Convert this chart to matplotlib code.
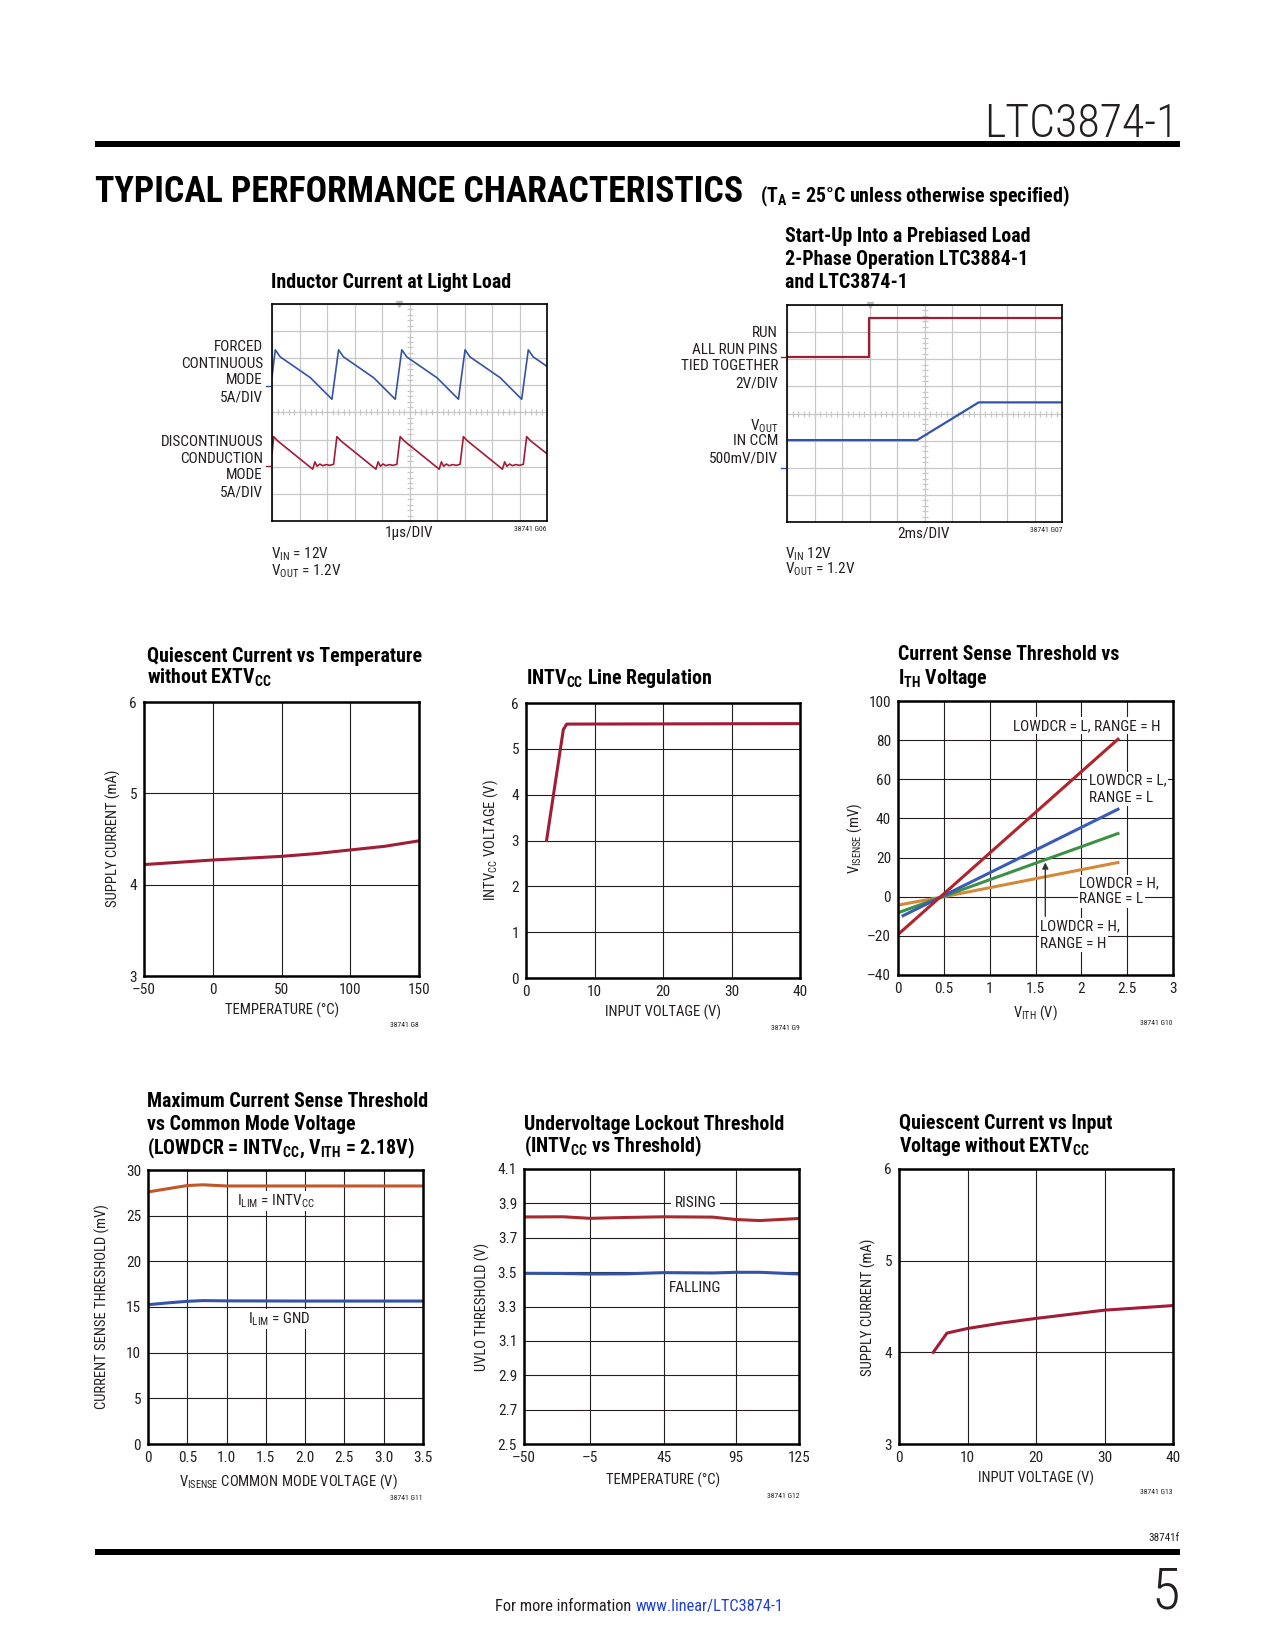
import matplotlib
matplotlib.use('Agg')
import matplotlib.pyplot as plt
from matplotlib import font_manager as fm
from matplotlib.patches import Rectangle
import numpy as np

# ---------------- data ----------------
# Inductor current at light load (scope divisions)
FCM_X = [0, 0.12, 0.30, 1.40, 2.18, 2.42, 2.60, 3.70, 4.48, 4.72, 4.90, 6.00, 6.78,
         7.02, 7.20, 8.30, 9.08, 9.32, 9.50, 10.0]
FCM_Y = [5.33, 6.31, 6.05, 5.28, 4.49, 6.31, 6.05, 5.28, 4.49, 6.31, 6.05, 5.28, 4.49,
         6.31, 6.05, 5.28, 4.49, 6.31, 6.05, 5.70]
DCM_X = [0, 0.06, 0.21, 1.48, 1.56, 1.64, 1.74, 1.84, 1.98, 2.10, 2.24,
         2.36, 2.51, 3.78, 3.86, 3.94, 4.04, 4.14, 4.28, 4.40, 4.54,
         4.66, 4.81, 6.08, 6.16, 6.24, 6.34, 6.44, 6.58, 6.70, 6.84,
         6.96, 7.11, 8.38, 8.46, 8.54, 8.64, 8.74, 8.88, 9.00, 9.14,
         9.26, 9.41, 10.0]
DCM_Y = [2.50, 3.11, 2.95, 1.91, 2.18, 2.02, 2.10, 2.04, 2.08, 2.05, 2.09,
         3.11, 2.95, 1.91, 2.18, 2.02, 2.10, 2.04, 2.08, 2.05, 2.09,
         3.11, 2.95, 1.91, 2.18, 2.02, 2.10, 2.04, 2.08, 2.05, 2.09,
         3.11, 2.95, 1.91, 2.18, 2.02, 2.10, 2.04, 2.08, 2.05, 2.09,
         3.11, 2.95, 2.48]
# Start-up into prebiased load (scope divisions)
RUN_X = [0, 2.99, 2.99, 10]
RUN_Y = [6.09, 6.09, 7.53, 7.53]
VOUT_X = [0, 4.73, 6.97, 10]
VOUT_Y = [3.02, 3.02, 4.41, 4.41]

# Quiescent current vs temperature
QT_TEMP = [-50, -25, 0, 25, 50, 75, 100, 125, 150]
QT_CURR = [4.22, 4.245, 4.27, 4.29, 4.31, 4.34, 4.38, 4.42, 4.48]

# INTVCC line regulation
LR_VIN = [3.0, 5.45, 5.94, 40]
LR_INTVCC = [3.0, 5.42, 5.54, 5.55]

# Current sense threshold vs ITH
ITH_RED = [0, 2.4]
VS_RED = [-19.3, 80.5]
ITH_BLUE = [0.055, 2.4]
VS_BLUE = [-9.7, 44.7]
ITH_GREEN = [0, 2.4]
VS_GREEN = [-8.2, 32.3]
ITH_ORANGE = [0, 0.5, 1.0, 2.4]
VS_ORANGE = [-4.3, 0.0, 4.6, 17.5]

# Max current sense threshold vs common mode
CM_V = [0, 0.25, 0.5, 0.7, 1.0, 2.0, 3.5]
TH_INTVCC = [27.6, 27.95, 28.3, 28.38, 28.25, 28.25, 28.25]
TH_GND = [15.25, 15.45, 15.62, 15.7, 15.67, 15.65, 15.65]

# UVLO threshold
UV_TICK_POS = [-50, -8.2, 39.1, 85.1, 125]
UV_TICK_LBL = ['\u201350', '\u20135', '45', '95', '125']
UV_TEMP = [-50, -25, -8, 15, 39, 70, 85, 100, 125]
UV_RISING = [3.821, 3.822, 3.813, 3.818, 3.822, 3.820, 3.806, 3.800, 3.812]
UV_FALLING = [3.493, 3.492, 3.489, 3.490, 3.497, 3.495, 3.499, 3.499, 3.489]

# Quiescent current vs input voltage
QV_VIN = [5, 7, 10, 15, 20, 30, 40]
QV_CURR = [4.0, 4.21, 4.26, 4.32, 4.37, 4.46, 4.51]

# ---------------- style ----------------
def pick(names):
    for n in names:
        try:
            fm.findfont(fm.FontProperties(family=n), fallback_to_default=False)
            return n
        except Exception:
            pass
    return 'DejaVu Sans'

FONT = pick(['Liberation Sans Narrow', 'Roboto Condensed', 'Liberation Sans', 'Roboto'])
plt.rcParams['font.family'] = [FONT, 'DejaVu Sans']
plt.rcParams['mathtext.fontset'] = 'custom'
plt.rcParams['mathtext.rm'] = FONT
plt.rcParams['mathtext.bf'] = FONT + ':bold'
plt.rcParams['mathtext.it'] = FONT
plt.rcParams['mathtext.default'] = 'regular'

INK = '#231f20'
RED = '#a01c37'
BLUE = '#3553a5'
SGRID = '#c8c8c8'
TSZ = 14.3   # chart title size
LSZ = 11     # in-chart label size
ASZ = 10.5   # axis label size

W, H = 1275, 1650
fig = plt.figure(figsize=(W / 100, H / 100), dpi=100)


def R(x0, y0, x1, y1):
    return [x0 / W, 1 - y1 / H, (x1 - x0) / W, (y1 - y0) / H]


def T(x, y, s, size=LSZ, ha='left', weight='normal', color=INK, **kw):
    yb = y + 0.358 * size * 100 / 72
    return fig.text(x / W, 1 - yb / H, s, fontsize=size, ha=ha, va='baseline',
                    fontweight=weight, color=color, **kw)


def TC(x, y, s, size=ASZ, rotation=0, ha='center', **kw):
    return fig.text(x / W, 1 - y / H, s, fontsize=size, ha=ha, va='center',
                    rotation=rotation, color=INK, **kw)


def bar(y0, y1, x0=95, x1=1180):
    fig.add_artist(Rectangle((x0 / W, 1 - y1 / H), (x1 - x0) / W, (y1 - y0) / H,
                             transform=fig.transFigure, color='black', lw=0))


def scope(rect):
    ax = fig.add_axes(rect)
    ax.set_xlim(0, 10)
    ax.set_ylim(0, 8)
    ax.set_xticks(range(11))
    ax.set_yticks(range(9))
    ax.grid(True, color=SGRID, lw=0.9)
    ax.set_axisbelow(True)
    ax.tick_params(length=0, labelbottom=False, labelleft=False)
    for s in ax.spines.values():
        s.set_linewidth(1.2)
        s.set_color('black')
    ax.plot([5] * 41, np.linspace(0, 8, 41), ls='none', marker='_', ms=5,
            mew=0.9, color=SGRID, zorder=1)
    ax.plot(np.linspace(0, 10, 51), [4] * 51, ls='none', marker='|', ms=5,
            mew=0.9, color=SGRID, zorder=1)
    return ax


def chart(rect, xlim, ylim, xt, xl, yt, yl):
    ax = fig.add_axes(rect)
    ax.set_xlim(*xlim)
    ax.set_ylim(*ylim)
    ax.set_xticks(xt, xl)
    ax.set_yticks(yt, yl)
    ax.grid(True, color=INK, lw=0.8)
    ax.set_axisbelow(True)
    ax.tick_params(length=0, labelsize=11, pad=5, colors=INK)
    for s in ax.spines.values():
        s.set_linewidth(1.8)
        s.set_color('black')
    return ax


def gnd_mark(ax, y, color):
    ax.plot([-0.22, -0.08], [y, y], color=color, lw=1.0, clip_on=False)


# ---------------- header ----------------
T(1178, 121, 'LTC3874-1', size=33, ha='right', color='#231f20', weight='light')
bar(141, 147)
head = T(95, 189, 'TYPICAL PERFORMANCE CHARACTERISTICS', size=26, weight='bold',
         color='black')
fig.canvas.draw()
bb = head.get_window_extent()
newsize = 26 * 649 / bb.width
head.set_fontsize(newsize)
head.set_position((95 / W, 1 - (189 + 0.358 * newsize * 100 / 72) / H))
T(760, 195, '(T$_{A}$ = 25°C unless otherwise specified)', size=14.3, weight='bold',
  color='black')

# ---------------- chart 1: inductor current ----------------
T(271, 281, 'Inductor Current at Light Load', size=TSZ, weight='bold', color='black')
ax = scope(R(272, 304, 547, 521))
ax.plot(FCM_X, FCM_Y, color=BLUE, lw=1.2)
ax.plot(DCM_X, DCM_Y, color=RED, lw=1.2)
gnd_mark(ax, 4.98, BLUE)
gnd_mark(ax, 2.04, RED)
ax.plot([4.6], [8.0], marker='v', ms=4, color='#bbbbbb', clip_on=False)
for yy, s in zip([346, 363, 379, 396], ['FORCED', 'CONTINUOUS', 'MODE', '5A/DIV']):
    T(263, yy, s, ha='right')
for yy, s in zip([441, 458, 474, 491], ['DISCONTINUOUS', 'CONDUCTION', 'MODE', '5A/DIV']):
    T(263, yy, s, ha='right')
T(409, 532, '1µs/DIV', ha='center')
T(547, 528, '38741 G06', size=5.5, ha='right')
T(271, 553, 'V$_{IN}$ = 12V')
T(271, 570, 'V$_{OUT}$ = 1.2V')

# ---------------- chart 2: start-up ----------------
for yy, s in zip([235, 258, 281], ['Start-Up Into a Prebiased Load',
                                    '2-Phase Operation LTC3884-1', 'and LTC3874-1']):
    T(785, yy, s, size=TSZ, weight='bold', color='black')
ax = scope(R(787, 305, 1062, 522))
ax.plot(RUN_X, RUN_Y, color=RED, lw=1.6)
ax.plot(VOUT_X, VOUT_Y, color=BLUE, lw=1.6)
gnd_mark(ax, 6.07, RED)
gnd_mark(ax, 2.0, BLUE)
ax.plot([3.0], [8.0], marker='v', ms=4, color='#bbbbbb', clip_on=False)
for yy, s in zip([332, 349, 365, 382], ['RUN', 'ALL RUN PINS', 'TIED TOGETHER', '2V/DIV']):
    T(778, yy, s, ha='right')
for yy, s in zip([425, 440, 457], ['V$_{OUT}$', 'IN CCM', '500mV/DIV']):
    T(778, yy, s, ha='right')
T(923, 532, '2ms/DIV', ha='center')
T(1062, 529, '38741 G07', size=5.5, ha='right')
T(785, 553, 'V$_{IN}$ 12V')
T(785, 568, 'V$_{OUT}$ = 1.2V')

# ---------------- chart 3: quiescent current vs temperature ----------------
T(147, 655, 'Quiescent Current vs Temperature', size=TSZ, weight='bold', color='black')
T(147, 677, 'without EXTV$_{CC}$', size=TSZ, weight='bold', color='black')
ax = chart(R(144, 702, 419, 976), (-50, 150), (3, 6),
           [-50, 0, 50, 100, 150], ['\u201350', '0', '50', '100', '150'],
           [3, 4, 5, 6], ['3', '4', '5', '6'])
ax.plot(QT_TEMP, QT_CURR, color=RED, lw=2.2)
TC(113, 838, 'SUPPLY CURRENT (mA)', rotation=90)
TC(282, 1010, 'TEMPERATURE (°C)')
TC(419, 1025, '38741 G8', size=5.5, ha='right')

# ---------------- chart 4: INTVCC line regulation ----------------
T(526, 677, 'INTV$_{CC}$ Line Regulation', size=TSZ, weight='bold', color='black')
ax = chart(R(526, 703, 800, 978), (0, 40), (0, 6),
           [0, 10, 20, 30, 40], ['0', '10', '20', '30', '40'],
           list(range(7)), [str(v) for v in range(7)])
ax.plot(LR_VIN, LR_INTVCC, color=RED, lw=2.2)
TC(491, 840, 'INTV$_{CC}$ VOLTAGE (V)', rotation=90)
TC(663, 1012, 'INPUT VOLTAGE (V)')
TC(800, 1028, '38741 G9', size=5.5, ha='right')

# ---------------- chart 5: current sense threshold vs ITH ----------------
T(898, 653, 'Current Sense Threshold vs', size=TSZ, weight='bold', color='black')
T(898, 677, 'I$_{TH}$ Voltage', size=TSZ, weight='bold', color='black')
ax = chart(R(898, 701, 1173, 975), (0, 3), (-40, 100),
           [0, 0.5, 1, 1.5, 2, 2.5, 3], ['0', '0.5', '1', '1.5', '2', '2.5', '3'],
           list(range(-40, 101, 20)),
           ['\u201340', '\u201320', '0', '20', '40', '60', '80', '100'])
ax.plot(ITH_ORANGE, VS_ORANGE, color='#d4883a', lw=2.2)
ax.plot(ITH_GREEN, VS_GREEN, color='#3c9146', lw=2.2)
ax.plot(ITH_BLUE, VS_BLUE, color='#3a5cb5', lw=2.2)
ax.plot(ITH_RED, VS_RED, color='#b0242a', lw=2.2)
box = dict(facecolor='white', edgecolor='none', pad=1.0)
ax.text(1.25, 87.3, 'LOWDCR = L, RANGE = H', fontsize=LSZ, color=INK, va='center', bbox=box)
ax.text(2.08, 59.3, 'LOWDCR = L,', fontsize=LSZ, color=INK, va='center', bbox=box)
ax.text(2.08, 50.6, 'RANGE = L', fontsize=LSZ, color=INK, va='center', bbox=box)
ax.text(1.975, 6.7, 'LOWDCR = H,', fontsize=LSZ, color=INK, va='center', bbox=box)
ax.text(1.975, -1.3, 'RANGE = L', fontsize=LSZ, color=INK, va='center', bbox=box)
ax.text(1.55, -15.3, 'LOWDCR = H,', fontsize=LSZ, color=INK, va='center', bbox=box)
ax.text(1.55, -24.0, 'RANGE = H', fontsize=LSZ, color=INK, va='center', bbox=box)
ax.annotate('', xy=(1.607, 17.5), xytext=(1.607, -10),
            arrowprops=dict(arrowstyle='-|>', color='#333333', lw=1.0,
                            mutation_scale=9, shrinkA=0, shrinkB=0))
TC(855, 838, 'V$_{ISENSE}$ (mV)', rotation=90)
TC(1035, 1013, 'V$_{ITH}$ (V)')
TC(1173, 1023, '38741 G10', size=5.5, ha='right')

# ---------------- chart 6: max current sense threshold ----------------
for yy, s in zip([1100, 1123, 1147], ['Maximum Current Sense Threshold',
                                       'vs Common Mode Voltage',
                                       '(LOWDCR = INTV$_{CC}$, V$_{ITH}$ = 2.18V)']):
    T(147, yy, s, size=TSZ, weight='bold', color='black')
ax = chart(R(148, 1170, 423, 1444), (0, 3.5), (0, 30),
           [0, 0.5, 1, 1.5, 2, 2.5, 3, 3.5],
           ['0', '0.5', '1.0', '1.5', '2.0', '2.5', '3.0', '3.5'],
           list(range(0, 31, 5)), [str(v) for v in range(0, 31, 5)])
ax.plot(CM_V, TH_INTVCC, color='#c0562a', lw=2.2)
ax.plot(CM_V, TH_GND, color='#3553a5', lw=2.2)
ax.text(1.63, 26.6, 'I$_{LIM}$ = INTV$_{CC}$', fontsize=LSZ, color=INK, ha='center',
        va='center', bbox=box)
ax.text(1.67, 13.7, 'I$_{LIM}$ = GND', fontsize=LSZ, color=INK, ha='center',
        va='center', bbox=box)
TC(102, 1307, 'CURRENT SENSE THRESHOLD (mV)', rotation=90)
TC(288, 1482, 'V$_{ISENSE}$ COMMON MODE VOLTAGE (V)')
TC(423, 1498, '38741 G11', size=5.5, ha='right')

# ---------------- chart 7: UVLO ----------------
T(524, 1123, 'Undervoltage Lockout Threshold', size=TSZ, weight='bold', color='black')
T(524, 1145, '(INTV$_{CC}$ vs Threshold)', size=TSZ, weight='bold', color='black')
uv_y = [2.5, 2.7, 2.9, 3.1, 3.3, 3.5, 3.7, 3.9, 4.1]
ax = chart(R(524, 1169, 799, 1444), (-50, 125), (2.5, 4.1),
           UV_TICK_POS, UV_TICK_LBL, uv_y, ['%.1f' % v for v in uv_y])
ax.plot(UV_TEMP, UV_RISING, color='#a82a2e', lw=2.2)
ax.plot(UV_TEMP, UV_FALLING, color='#3553a5', lw=2.2)
ax.text(59, 3.9, 'RISING', fontsize=LSZ, color=INK, ha='center', va='center',
        bbox=dict(facecolor='white', edgecolor='none', pad=2.5))
ax.text(59, 3.41, 'FALLING', fontsize=LSZ, color=INK, ha='center', va='center',
        bbox=dict(facecolor='white', edgecolor='none', pad=2.5))
TC(482, 1307, 'UVLO THRESHOLD (V)', rotation=90)
TC(663, 1480, 'TEMPERATURE (°C)')
TC(799, 1496, '38741 G12', size=5.5, ha='right')

# ---------------- chart 8: quiescent current vs input voltage ----------------
T(899, 1122, 'Quiescent Current vs Input', size=TSZ, weight='bold', color='black')
T(899, 1145, 'Voltage without EXTV$_{CC}$', size=TSZ, weight='bold', color='black')
ax = chart(R(899, 1169, 1173, 1444), (0, 40), (3, 6),
           [0, 10, 20, 30, 40], ['0', '10', '20', '30', '40'],
           [3, 4, 5, 6], ['3', '4', '5', '6'])
ax.plot(QV_VIN, QV_CURR, color=RED, lw=2.2)
TC(868, 1307, 'SUPPLY CURRENT (mA)', rotation=90)
TC(1036, 1478, 'INPUT VOLTAGE (V)')
TC(1173, 1492, '38741 G13', size=5.5, ha='right')

# ---------------- footer ----------------
T(1180, 1537, '38741f', size=8, ha='right')
bar(1549, 1555)
T(1180, 1588, '5', size=42, ha='right', weight='light')
f1 = T(495, 1605, 'For more information', size=11.8)
fig.canvas.draw()
x_end = f1.get_window_extent().x1
T(x_end + 4, 1605, 'www.linear/LTC3874-1', size=11.8, color='#1f3fdc')

fig.savefig('out.png', dpi=100)
